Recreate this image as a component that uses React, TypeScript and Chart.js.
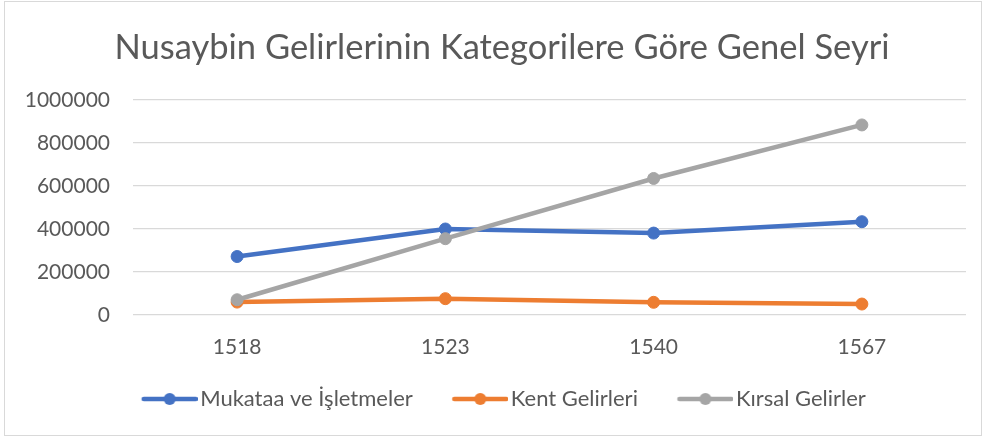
import React, { useEffect, useRef } from "react";
import { Chart, registerables } from "chart.js";

Chart.register(...registerables);

const TITLE = "Nusaybin Gelirlerinin Kategorilere Göre Genel Seyri";
const YEARS = ["1518", "1523", "1540", "1567"];
const SERIES_NAMES = ["Mukataa ve İşletmeler", "Kent Gelirleri", "Kırsal Gelirler"];
const MUKATAA = [272000, 400000, 381000, 434000];
const KENT = [60000, 76000, 59000, 51000];
const KIRSAL = [71000, 355000, 635000, 884000];
const COLORS = ["#4472C4", "#ED7D31", "#A5A5A5"];
const Y_MIN = 0;
const Y_MAX = 1000000;
const Y_STEP = 200000;

const FONT = "Lato, 'Open Sans', sans-serif";
const TEXT = "#595959";

function makeLegendImage(color: string): HTMLCanvasElement {
  const c = document.createElement("canvas");
  c.width = 84;
  c.height = 14;
  const ctx = c.getContext("2d")!;
  ctx.strokeStyle = color;
  ctx.lineWidth = 4.5;
  ctx.lineCap = "round";
  ctx.beginPath();
  ctx.moveTo(30, 7);
  ctx.lineTo(82, 7);
  ctx.stroke();
  ctx.fillStyle = color;
  ctx.beginPath();
  ctx.arc(56, 7, 6, 0, Math.PI * 2);
  ctx.fill();
  return c;
}

const shiftBlocks = {
  id: "shiftBlocks",
  afterLayout(chart: any) {
    const t = chart.titleBlock;
    if (t) {
      t.left += 19;
      t.right += 19;
    }
    const l = chart.legend;
    if (l) {
      l.left += 11;
      l.right += 11;
    }
  },
};

export default function App() {
  const ref = useRef<HTMLCanvasElement | null>(null);

  useEffect(() => {
    if (!ref.current) return;
    const values = [MUKATAA, KENT, KIRSAL];
    const images = COLORS.map(makeLegendImage);
    const chart = new Chart(ref.current, {
      type: "line",
      data: {
        labels: YEARS,
        datasets: SERIES_NAMES.map((name, i) => ({
          label: name,
          data: values[i],
          borderColor: COLORS[i],
          backgroundColor: COLORS[i],
          pointBackgroundColor: COLORS[i],
          pointBorderColor: COLORS[i],
          borderWidth: 4.5,
          pointRadius: 6,
          pointBorderWidth: 1,
          tension: 0,
          order: 2 - i,
        })),
      },
      options: {
        responsive: false,
        animation: false,
        layout: { padding: { left: 0, right: 20, top: 0, bottom: 19 } },
        plugins: {
          tooltip: { enabled: false },
          title: {
            display: true,
            text: TITLE,
            color: TEXT,
            font: { family: FONT, size: 34.5, weight: "normal", lineHeight: 1.2 },
            padding: { top: 27, bottom: 31.6 },
          },
          legend: {
            display: true,
            position: "bottom",
            labels: {
              usePointStyle: true,
              pointStyleWidth: 67,
              padding: 20,
              color: TEXT,
              font: { family: FONT, size: 22 },
              generateLabels: () =>
                SERIES_NAMES.map((name, i) => ({
                  text: name,
                  fillStyle: COLORS[i],
                  strokeStyle: COLORS[i],
                  pointStyle: images[i] as any,
                  datasetIndex: i,
                  hidden: false,
                  lineWidth: 0,
                  fontColor: TEXT,
                })),
            },
          },
        },
        scales: {
          x: {
            offset: true,
            grid: { display: false, drawTicks: false },
            border: { display: false },
            ticks: {
              color: TEXT,
              padding: 20,
              font: { family: FONT, size: 21 },
            },
            afterFit: (scale: any) => {
              scale.height = 53;
            },
          },
          y: {
            min: Y_MIN,
            max: Y_MAX,
            grid: { color: "#D9D9D9", lineWidth: 1.3, drawTicks: false },
            border: { display: false },
            ticks: {
              stepSize: Y_STEP,
              color: TEXT,
              padding: 23,
              font: { family: FONT, size: 21 },
              callback: (v: any) => String(v),
            },
            afterFit: (scale: any) => {
              scale.width = 133;
            },
          },
        },
      },
      plugins: [shiftBlocks],
    });
    return () => chart.destroy();
  }, []);

  return (
    <div style={{ position: "absolute", left: 0, top: 0, width: 986, height: 439, background: "#fff" }}>
      <canvas ref={ref} width={986} height={439} style={{ display: "block" }} />
      <div
        style={{
          position: "absolute",
          left: 4,
          top: 1,
          width: 978,
          height: 435,
          border: "1px solid #D9D9D9",
          boxSizing: "border-box",
          pointerEvents: "none",
        }}
      />
    </div>
  );
}
